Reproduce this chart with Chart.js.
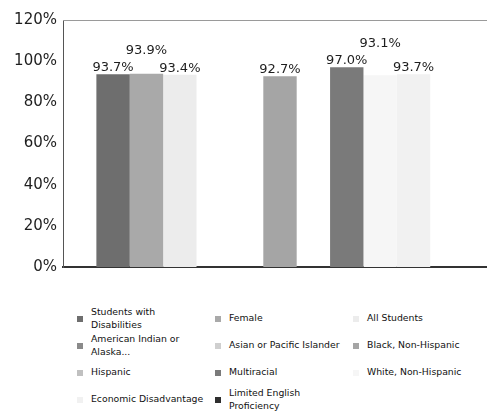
<!DOCTYPE html>
<html>
<head>
<meta charset="utf-8">
<script src="https://cdn.jsdelivr.net/npm/chart.js@4.4.0/dist/chart.umd.min.js"></script>
<style>
  html, body { margin: 0; padding: 0; background: #fff; overflow: hidden; }
  body { width: 487px; height: 411px; position: relative; }
  #wrap { position: absolute; left: 0; top: 0; width: 497px; height: 283px; }
  #legend { position: absolute; left: 77px; top: 305px; display: grid;
            grid-template-columns: 138px 138px 138px; grid-auto-rows: 27px;
            font-family: "DejaVu Sans", Verdana, sans-serif; font-size: 9.3px; color: #111; }
  .item { display: flex; align-items: center; }
  .sw { width: 6px; height: 6px; flex: none; margin-right: 8px; }
  .tx { max-width: 115px; line-height: 12.5px; }
</style>
</head>
<body>
<div id="wrap"><canvas id="c"></canvas></div>
<div id="legend"></div>
<script>
const seriesNames = [
  "Students with Disabilities", "Female", "All Students",
  "American Indian or Alaska...", "Asian or Pacific Islander", "Black, Non-Hispanic",
  "Hispanic", "Multiracial", "White, Non-Hispanic",
  "Economic Disadvantage", "Limited English Proficiency"
];
const seriesValues = [93.7, 93.9, 93.4, null, null, 92.7, null, 97.0, 93.1, 93.7, null];
const seriesColors = ["#6e6e6e", "#a9a9a9", "#ececec", "#8a8a8a", "#cfcfcf", "#a5a5a5",
                      "#c0c0c0", "#7a7a7a", "#f6f6f6", "#f1f1f1", "#2e2e2e"];
const categories = [""];
const yTicks = [0, 20, 40, 60, 80, 100, 120];

const datasets = seriesNames.map((name, i) => ({
  label: name,
  data: [seriesValues[i]],
  backgroundColor: seriesColors[i],
  borderWidth: 0,
  categoryPercentage: 11 / 13,
  barPercentage: 1.0
}));

const labelPlugin = {
  id: 'valueLabels',
  afterDatasetsDraw(chart) {
    const ctx = chart.ctx;
    ctx.save();
    ctx.font = '13px "DejaVu Sans", Verdana, sans-serif';
    ctx.fillStyle = '#1e1e1e';
    ctx.textAlign = 'center';
    ctx.textBaseline = 'alphabetic';
    const placed = [];
    const h = 14;
    chart.data.datasets.forEach((ds, i) => {
      const v = ds.data[0];
      if (v === null || v === undefined) return;
      const el = chart.getDatasetMeta(i).data[0];
      const text = v.toFixed(1) + '%';
      const w = ctx.measureText(text).width;
      let base = el.y - 3;
      let moved = true;
      while (moved) {
        moved = false;
        for (const p of placed) {
          const hOverlap = (el.x - w / 2) < p.r && (el.x + w / 2) > p.l;
          const vOverlap = (base - h) < p.b && base > p.t;
          if (hOverlap && vOverlap) { base = p.t - 3; moved = true; }
        }
      }
      ctx.fillText(text, el.x, base);
      placed.push({ l: el.x - w / 2, r: el.x + w / 2, t: base - h, b: base });
    });
    ctx.restore();
  }
};

const topLinePlugin = {
  id: 'topLine',
  beforeDatasetsDraw(chart) {
    const { ctx, chartArea } = chart;
    ctx.save();
    ctx.strokeStyle = '#9a9a9a';
    ctx.lineWidth = 1;
    ctx.beginPath();
    ctx.moveTo(chartArea.left, chartArea.top + 0.5);
    ctx.lineTo(chartArea.right, chartArea.top + 0.5);
    ctx.stroke();
    ctx.restore();
  }
};

const chart = new Chart(document.getElementById('c'), {
  type: 'bar',
  data: { labels: categories, datasets },
  options: {
    responsive: true,
    maintainAspectRatio: false,
    animation: false,
    layout: { padding: { top: 20, left: 0, right: 0, bottom: 8 } },
    plugins: { legend: { display: false }, tooltip: { enabled: false } },
    scales: {
      x: {
        grid: { display: false },
        ticks: { display: false },
        border: { display: true, color: '#333', width: 2 }
      },
      y: {
        min: 0, max: 120,
        afterBuildTicks: (s) => { s.ticks = yTicks.map(v => ({ value: v })); },
        afterFit: (s) => { s.width = 63; },
        grid: { display: false, drawTicks: false },
        border: { display: true, color: '#555', width: 1 },
        ticks: {
          padding: 6,
          color: '#1e1e1e',
          font: { family: '"DejaVu Sans", Verdana, sans-serif', size: 15 },
          callback: (v) => v + '%'
        }
      }
    }
  },
  plugins: [labelPlugin, topLinePlugin]
});

const legend = document.getElementById('legend');
chart.data.datasets.forEach(ds => {
  const item = document.createElement('div');
  item.className = 'item';
  const sw = document.createElement('span');
  sw.className = 'sw';
  sw.style.background = ds.backgroundColor;
  const tx = document.createElement('span');
  tx.className = 'tx';
  tx.textContent = ds.label;
  item.appendChild(sw);
  item.appendChild(tx);
  legend.appendChild(item);
});
</script>
</body>
</html>
